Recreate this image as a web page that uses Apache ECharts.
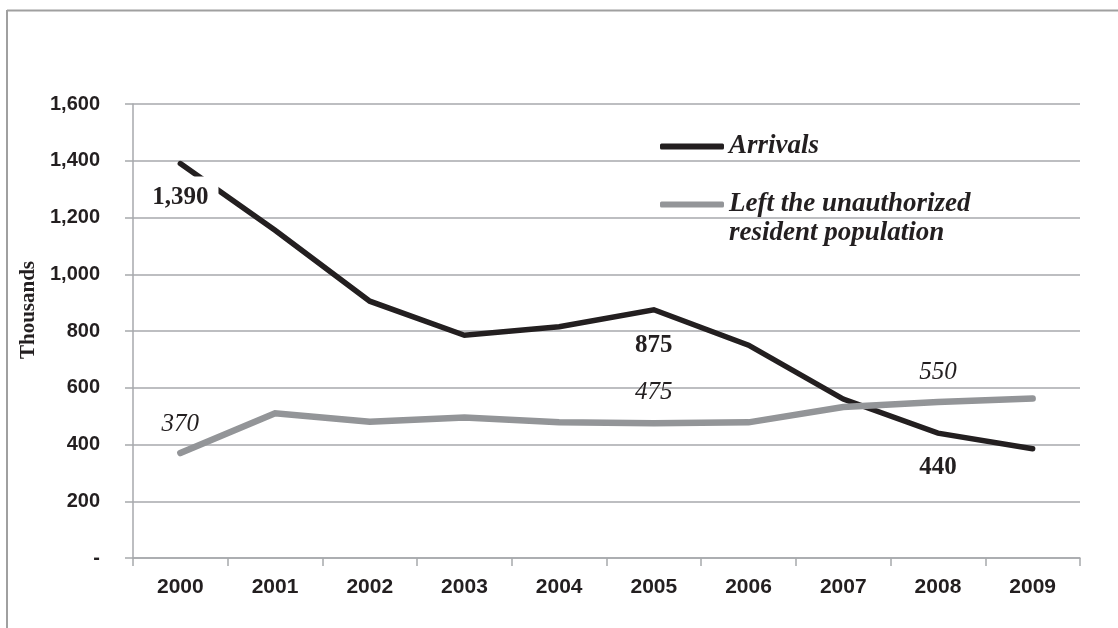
<!DOCTYPE html>
<html>
<head>
<meta charset="utf-8">
<script src="https://cdn.jsdelivr.net/npm/echarts@6/dist/echarts.min.js"></script>
<style>
html,body{margin:0;padding:0;background:#fff;}
#chart{width:1118px;height:628px;}
</style>
</head>
<body>
<div id="chart"></div>
<script>
const years = ['2000','2001','2002','2003','2004','2005','2006','2007','2008','2009'];
const arrivals = [1390, 1155, 905, 785, 815, 875, 750, 560, 440, 385];
const leftPop = [370, 510, 480, 495, 478, 475, 478, 532, 550, 562];
const yTicks = [0, 200, 400, 600, 800, 1000, 1200, 1400, 1600];
const arrivalsName = 'Arrivals';
const leftName = 'Left the unauthorized\nresident population';
const arrivalsLabelIdx = [0, 5, 8];
const leftLabelIdx = [0, 5, 8];

const serif = '"Liberation Serif","Times New Roman",serif';
const sans = '"Liberation Sans",Arial,sans-serif';
const dark = '#231f20';
const grey = '#939598';
const gridGrey = '#a7a9ac';

function fmt(v){ return v === 0 ? '-' : v.toLocaleString('en-US'); }

const arrLabelStyle = {
  0: {position:'bottom', distance:12, backgroundColor:'#fff', padding:[8,10,4,10]},
  5: {position:'bottom', distance:22},
  8: {position:'bottom', distance:21}
};
const leftLabelStyle = {
  0: {position:'top', distance:15},
  5: {position:'top', distance:17},
  8: {position:'top', distance:16}
};

const arrData = arrivals.map((v,i) => arrivalsLabelIdx.includes(i) ? {
  value: v,
  label: Object.assign({show:true, formatter: p => fmt(p.value), fontFamily: serif, fontWeight:'bold', fontSize:25, color: dark}, arrLabelStyle[i])
} : v);
const leftData = leftPop.map((v,i) => leftLabelIdx.includes(i) ? {
  value: v,
  label: Object.assign({show:true, formatter: p => fmt(p.value), fontFamily: serif, fontStyle:'italic', fontSize:25, color: dark}, leftLabelStyle[i])
} : v);

const chart = echarts.init(document.getElementById('chart'));
chart.setOption({
  backgroundColor:'#fff',
  animation:false,
  graphic:[
    {type:'line', shape:{x1:7, y1:10.5, x2:1118, y2:10.5}, style:{stroke:'#a0a0a0', lineWidth:2}},
    {type:'line', shape:{x1:7, y1:10, x2:7, y2:628}, style:{stroke:'#a0a0a0', lineWidth:2}}
  ],
  grid:{left:133, right:38, top:104, bottom:70},
  legend:{
    orient:'vertical',
    left:660,
    top:132,
    padding:0,
    itemWidth:64,
    itemHeight:6,
    itemGap:0,
    icon:'roundRect',
    data:[
      {name: arrivalsName, itemStyle:{color: dark}},
      {name: leftName, itemStyle:{color: grey}}
    ],
    formatter: n => n === leftName ? '\n' + n : n,
    textStyle:{fontFamily: serif, fontWeight:'bold', fontStyle:'italic', fontSize:27, color: dark, lineHeight:29}
  },
  xAxis:{
    type:'category',
    data: years,
    boundaryGap:true,
    axisLine:{show:true, lineStyle:{color: gridGrey, width:1.5}},
    axisTick:{show:true, length:8, alignWithLabel:false, lineStyle:{color: gridGrey, width:1.5}},
    axisLabel:{margin:19, fontFamily:'"Liberation Sans Narrow","Liberation Sans",Arial,sans-serif', fontWeight:'bold', fontSize:21, color: dark}
  },
  yAxis:{
    type:'value',
    min: yTicks[0],
    max: yTicks[yTicks.length-1],
    interval: yTicks[1]-yTicks[0],
    name:'Thousands',
    nameLocation:'middle',
    nameGap:92,
    nameRotate:90,
    nameTextStyle:{fontFamily: serif, fontWeight:'bold', fontSize:21, color: dark, padding:[0,0,0,42]},
    axisLine:{show:true, lineStyle:{color: gridGrey, width:1.5}},
    axisTick:{show:true, length:8, lineStyle:{color: gridGrey, width:1.5}},
    splitLine:{show:true, lineStyle:{color: gridGrey, width:1.5}},
    axisLabel:{margin:33, formatter: v => fmt(v), fontFamily: sans, fontWeight:'bold', fontSize:20, color: dark}
  },
  series:[
    {
      name: arrivalsName, type:'line', data: arrData, symbol:'circle', symbolSize:2, showSymbol:true,
      lineStyle:{color: dark, width:5.5, cap:'round', join:'miter'},
      itemStyle:{color: dark}
    },
    {
      name: leftName, type:'line', data: leftData, symbol:'circle', symbolSize:2, showSymbol:true,
      lineStyle:{color: grey, width:6.5, cap:'round', join:'miter'},
      itemStyle:{color: grey}
    }
  ]
});
</script>
</body>
</html>
